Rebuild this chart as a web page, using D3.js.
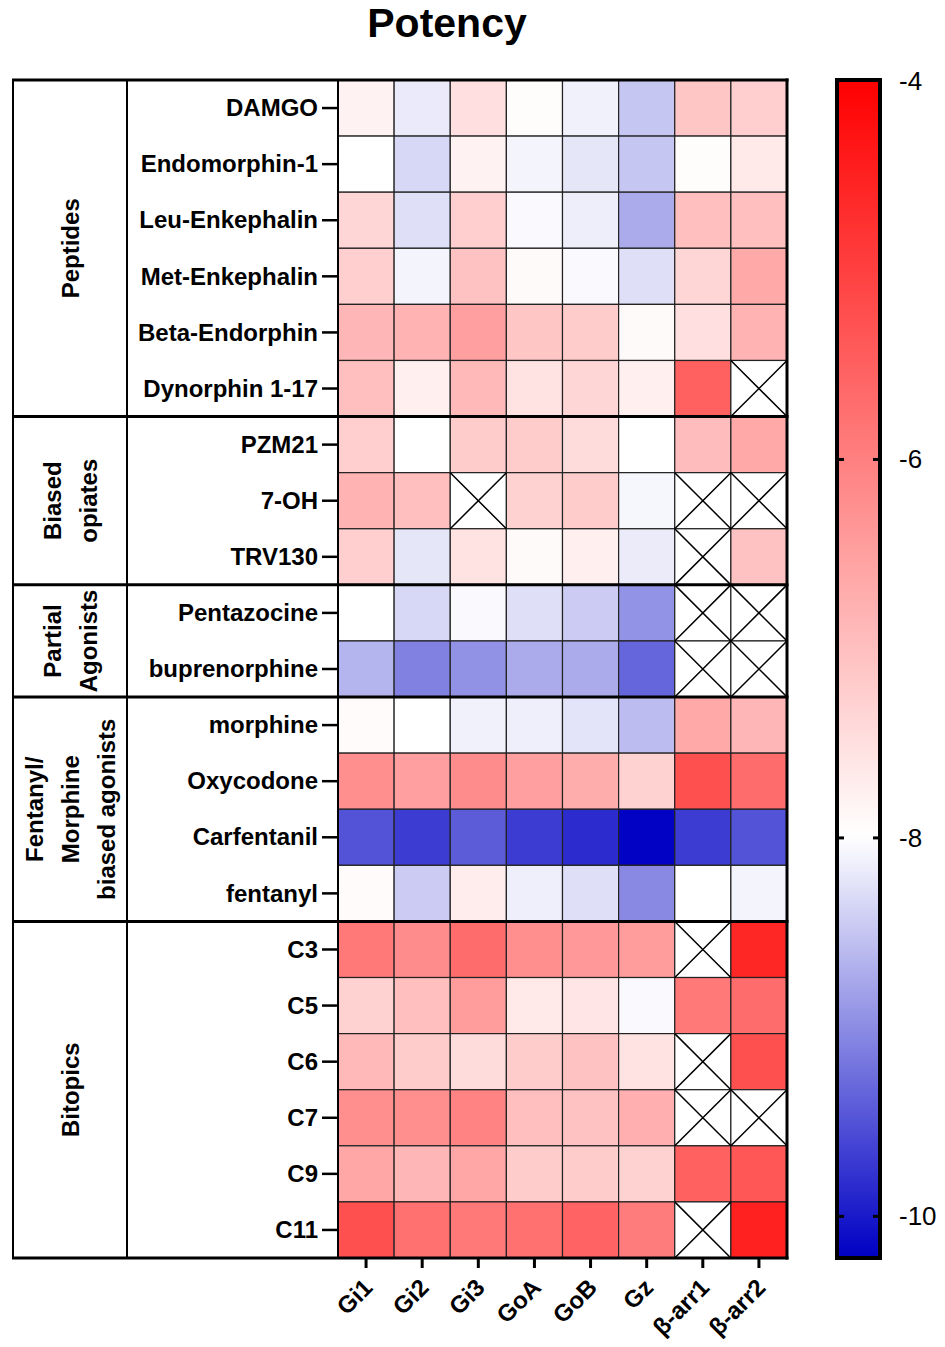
<!DOCTYPE html>
<html><head><meta charset="utf-8">
<script src="https://cdn.jsdelivr.net/npm/d3@7/dist/d3.min.js"></script>
<style>body{margin:0;background:#fff}svg{display:block}text{font-family:"Liberation Sans",Arial,sans-serif}</style>
</head><body>
<script>
const receptors = ["Gi1","Gi2","Gi3","GoA","GoB","Gz","β-arr1","β-arr2"];
const compounds = ["DAMGO","Endomorphin-1","Leu-Enkephalin","Met-Enkephalin","Beta-Endorphin","Dynorphin 1-17",
  "PZM21","7-OH","TRV130","Pentazocine","buprenorphine","morphine","Oxycodone","Carfentanil","fentanyl",
  "C3","C5","C6","C7","C9","C11"];
const groups = [
  {lines:["Peptides"], n:6},
  {lines:["Biased","opiates"], n:3},
  {lines:["Partial","Agonists"], n:2},
  {lines:["Fentanyl/","Morphine","biased agonists"], n:4},
  {lines:["Bitopics"], n:6}
];
// log potency values, null = not determined
const potency = [
  [-7.8,-8.18,-7.5,-7.95,-8.12,-8.5,-7.1,-7.25],
  [-8.0,-8.35,-7.8,-8.1,-8.22,-8.5,-7.95,-7.65],
  [-7.35,-8.28,-7.25,-8.05,-8.15,-8.73,-7.0,-7.0],
  [-7.25,-8.1,-7.05,-7.92,-8.05,-8.28,-7.35,-6.65],
  [-6.85,-6.8,-6.5,-7.1,-7.2,-7.92,-7.5,-6.8],
  [-7.0,-7.75,-6.9,-7.55,-7.35,-7.75,-5.5,null],
  [-7.25,-8.0,-7.2,-7.2,-7.45,-8.0,-6.95,-6.65],
  [-6.8,-7.0,null,-7.3,-7.2,-8.08,null,null],
  [-7.25,-8.22,-7.55,-7.92,-7.75,-8.17,null,-7.05],
  [-8.0,-8.35,-8.05,-8.28,-8.45,-8.95,null,null],
  [-8.65,-9.1,-8.96,-8.73,-8.73,-9.33,null,null],
  [-7.93,-8.0,-8.12,-8.14,-8.24,-8.58,-6.65,-6.85],
  [-6.25,-6.5,-6.2,-6.5,-6.7,-7.3,-5.25,-5.7],
  [-9.5,-9.7,-9.42,-9.7,-9.85,-10.2,-9.7,-9.5],
  [-7.93,-8.45,-7.72,-8.14,-8.28,-9.03,-8.0,-8.1],
  [-5.9,-6.2,-5.7,-6.25,-6.4,-6.45,null,-4.6],
  [-7.3,-7.0,-6.45,-7.65,-7.6,-8.05,-5.9,-5.7],
  [-6.9,-7.2,-7.45,-7.2,-7.05,-7.55,null,-5.25],
  [-6.25,-6.25,-6.05,-7.0,-7.05,-6.75,null,null],
  [-6.6,-6.85,-6.6,-7.2,-7.2,-7.3,-5.5,-5.35],
  [-5.25,-5.75,-5.9,-5.75,-5.55,-5.95,null,-4.5]
];
const colorTicks = [-4,-6,-8,-10];
const colorDomain = [-10.22,-8,-4];

(function(){
const W=945,H=1347;
const svg=d3.select("body").append("svg").attr("width",W).attr("height",H);

const hmL=338,hmR=787,yTop=80,yBot=1258;
const x=d3.scaleBand().domain(receptors).range([hmL,hmR]);
const y=d3.scaleBand().domain(compounds).range([yTop,yBot]);
const color=d3.scaleLinear().domain(colorDomain).range(["#0000c4","#ffffff","#ff0000"]).clamp(true);

svg.append("text").attr("x",447).attr("y",37).attr("text-anchor","middle")
  .style("font-size","41px").style("font-weight","bold").text("Potency");

// cells
const cells=[];
potency.forEach((row,i)=>row.forEach((v,j)=>cells.push({c:compounds[i],r:receptors[j],v})));
const g=svg.append("g");
g.selectAll("rect.cell").data(cells).join("rect").attr("class","cell")
  .attr("x",d=>x(d.r)).attr("y",d=>y(d.c)).attr("width",x.bandwidth()).attr("height",y.bandwidth())
  .attr("fill",d=>d.v==null?"#fff":color(d.v)).attr("stroke","#222").attr("stroke-width",1.2);
const nul=cells.filter(d=>d.v==null);
g.selectAll("path.x").data(nul).join("path").attr("class","x")
  .attr("d",d=>{const x0=x(d.r),y0=y(d.c),w=x.bandwidth(),h=y.bandwidth();
    return `M${x0},${y0}L${x0+w},${y0+h}M${x0+w},${y0}L${x0},${y0+h}`;})
  .attr("stroke","#000").attr("stroke-width",1.5).attr("fill","none");

// y axis
const yAxis=d3.axisLeft(y).tickSize(16).tickPadding(4);
const ya=svg.append("g").attr("transform",`translate(${hmL},0)`).call(yAxis);
ya.select(".domain").remove();
ya.selectAll(".tick line").attr("stroke","#000").attr("stroke-width",2.5);
ya.selectAll(".tick text").style("font-size","24px").style("font-weight","bold").attr("fill","#000").attr("dy","0.34em");

// x axis
const xAxis=d3.axisBottom(x).tickSize(10).tickPadding(6);
const xa=svg.append("g").attr("transform",`translate(0,${yBot})`).call(xAxis);
xa.select(".domain").remove();
xa.selectAll(".tick line").attr("stroke","#000").attr("stroke-width",3);
xa.selectAll(".tick text").style("font-size","24px").style("font-weight","bold").attr("fill","#000")
  .attr("text-anchor","end").attr("dy",null).attr("y",0)
  .attr("transform","translate(8,31) rotate(-45)");

// table frame
const tL=13,gR=127;
[[tL,2],[gR,2],[hmL,2]].forEach(([xx,w])=>{
  svg.append("line").attr("x1",xx).attr("x2",xx).attr("y1",yTop).attr("y2",yBot).attr("stroke","#000").attr("stroke-width",w);
});
svg.append("line").attr("x1",hmR).attr("x2",hmR).attr("y1",yTop-1.5).attr("y2",yBot+1.5).attr("stroke","#000").attr("stroke-width",3);
let idx=0;
const bounds=[yTop];
groups.forEach(gr=>{
  const y0=y(compounds[idx]); idx+=gr.n; const y1=y0+gr.n*y.bandwidth();
  bounds.push(y1);
  const gx=70, gy=(y0+y1)/2, lh=36;
  const tg=svg.append("text").attr("transform",`translate(${gx},${gy}) rotate(-90)`)
    .attr("text-anchor","middle").style("font-size","24px").style("font-weight","bold");
  gr.lines.forEach((ln,k)=>{
    tg.append("tspan").attr("x",0).attr("y",(k-(gr.lines.length-1)/2)*lh+9).text(ln);
  });
});
svg.selectAll("line.gsep").data(bounds).join("line").attr("class","gsep")
  .attr("x1",tL-1).attr("x2",hmR+1.5).attr("y1",d=>d).attr("y2",d=>d)
  .attr("stroke","#000").attr("stroke-width",3);

// colorbar
const cbL=837,cbR=880;
const cbY=d3.scaleLinear().domain([-10.22,-4]).range([yBot,yTop+1]);
const defs=svg.append("defs");
const grad=defs.append("linearGradient").attr("id","cb").attr("x1",0).attr("x2",0).attr("y1",1).attr("y2",0);
d3.range(0,1.0001,0.02).forEach(t=>{
  const v=-10.22+t*6.22;
  grad.append("stop").attr("offset",t).attr("stop-color",color(v));
});
svg.append("rect").attr("x",cbL).attr("y",yTop).attr("width",cbR-cbL).attr("height",yBot-yTop)
  .attr("fill","url(#cb)").attr("stroke","#000").attr("stroke-width",4);
const ca=svg.append("g");
colorTicks.forEach(t=>{
  const yy=cbY(t);
  if(t!==-4){
    ca.append("line").attr("x1",cbL).attr("x2",cbL+7).attr("y1",yy).attr("y2",yy).attr("stroke","#000").attr("stroke-width",3);
    ca.append("line").attr("x1",cbR-7).attr("x2",cbR).attr("y1",yy).attr("y2",yy).attr("stroke","#000").attr("stroke-width",3);
  }
  ca.append("text").attr("x",899).attr("y",yy+9).style("font-size","26px").attr("fill","#000").text(t);
});
})();
</script>
</body></html>
